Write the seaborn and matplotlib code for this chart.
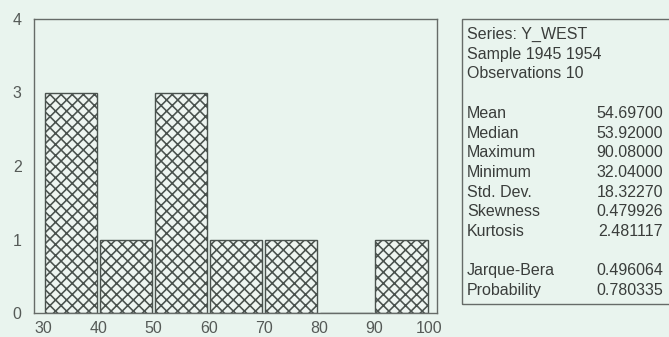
import matplotlib
matplotlib.use("Agg")
import matplotlib.pyplot as plt
from matplotlib.patches import Rectangle
import seaborn as sns
import numpy as np

# ---- data ----
bin_edges = [30, 40, 50, 60, 70, 80, 90, 100]
bin_counts = [3, 1, 3, 1, 1, 0, 1]
x_ticks = [30, 40, 50, 60, 70, 80, 90, 100]
y_ticks = [0, 1, 2, 3, 4]

header_lines = ["Series: Y_WEST", "Sample 1945 1954", "Observations 10"]
stat_labels = ["Mean", "Median", "Maximum", "Minimum", "Std. Dev.",
               "Skewness", "Kurtosis"]
stat_values = ["54.69700", "53.92000", "90.08000", "32.04000", "18.32270",
               "0.479926", "2.481117"]
test_labels = ["Jarque-Bera", "Probability"]
test_values = ["0.496064", "0.780335"]

# ---- style ----
BG = "#e9f4ee"
DARK = "#4a524e"
AXC = "#666b68"
TXT = "#3a3d3b"

sns.set_style("white")
plt.rcParams["font.family"] = ["Liberation Sans", "DejaVu Sans"]
plt.rcParams["hatch.color"] = DARK
plt.rcParams["hatch.linewidth"] = 1.15

W, H = 669, 337
fig = plt.figure(figsize=(W / 100, H / 100), dpi=100, facecolor=BG)
ax = fig.add_axes([34 / W, 1 - 313 / H, (437 - 34) / W, (313 - 19) / H])
ax.set_facecolor(BG)

mids = [(a + b) / 2 for a, b in zip(bin_edges[:-1], bin_edges[1:])]
sns.histplot(x=mids, weights=bin_counts, bins=bin_edges, shrink=0.95,
             stat="count", color="#eef5f1", edgecolor=DARK, linewidth=1.0,
             hatch="xxx", alpha=1, ax=ax)

ax.set_xlim(28.3, 101.45)
ax.set_ylim(0, 4)
ax.set_xticks(x_ticks)
ax.set_yticks(y_ticks)
ax.set_xlabel("")
ax.set_ylabel("")
for s in ax.spines.values():
    s.set_visible(True)
    s.set_color(AXC)
    s.set_linewidth(1.0)
ax.tick_params(axis="both", which="major", direction="out", colors=AXC,
               labelcolor="#555a57", labelsize=11.5, width=1.0)
ax.tick_params(axis="y", length=6, pad=3)
ax.tick_params(axis="x", length=5, pad=1)
ax.grid(False)

# ---- stats box ----
fig.add_artist(Rectangle((462 / W, 1 - 304 / H), (700 - 462) / W, (304 - 19) / H,
                         transform=fig.transFigure, facecolor="none",
                         edgecolor=AXC, linewidth=1.0))

base0 = 39.0
step = 19.7
xl = 467 / W
xr = 663 / W
FS = 11.5

def row_y(i):
    return 1 - (base0 + i * step) / H

row = 0
for line in header_lines:
    fig.text(xl, row_y(row), line, ha="left", va="baseline", fontsize=FS, color=TXT)
    row += 1
row += 1
for lab, val in zip(stat_labels, stat_values):
    fig.text(xl, row_y(row), lab, ha="left", va="baseline", fontsize=FS, color=TXT)
    fig.text(xr, row_y(row), val, ha="right", va="baseline", fontsize=FS, color=TXT)
    row += 1
row += 1
for lab, val in zip(test_labels, test_values):
    fig.text(xl, row_y(row), lab, ha="left", va="baseline", fontsize=FS, color=TXT)
    fig.text(xr, row_y(row), val, ha="right", va="baseline", fontsize=FS, color=TXT)
    row += 1

fig.savefig("out.png", dpi=100, facecolor=BG)
